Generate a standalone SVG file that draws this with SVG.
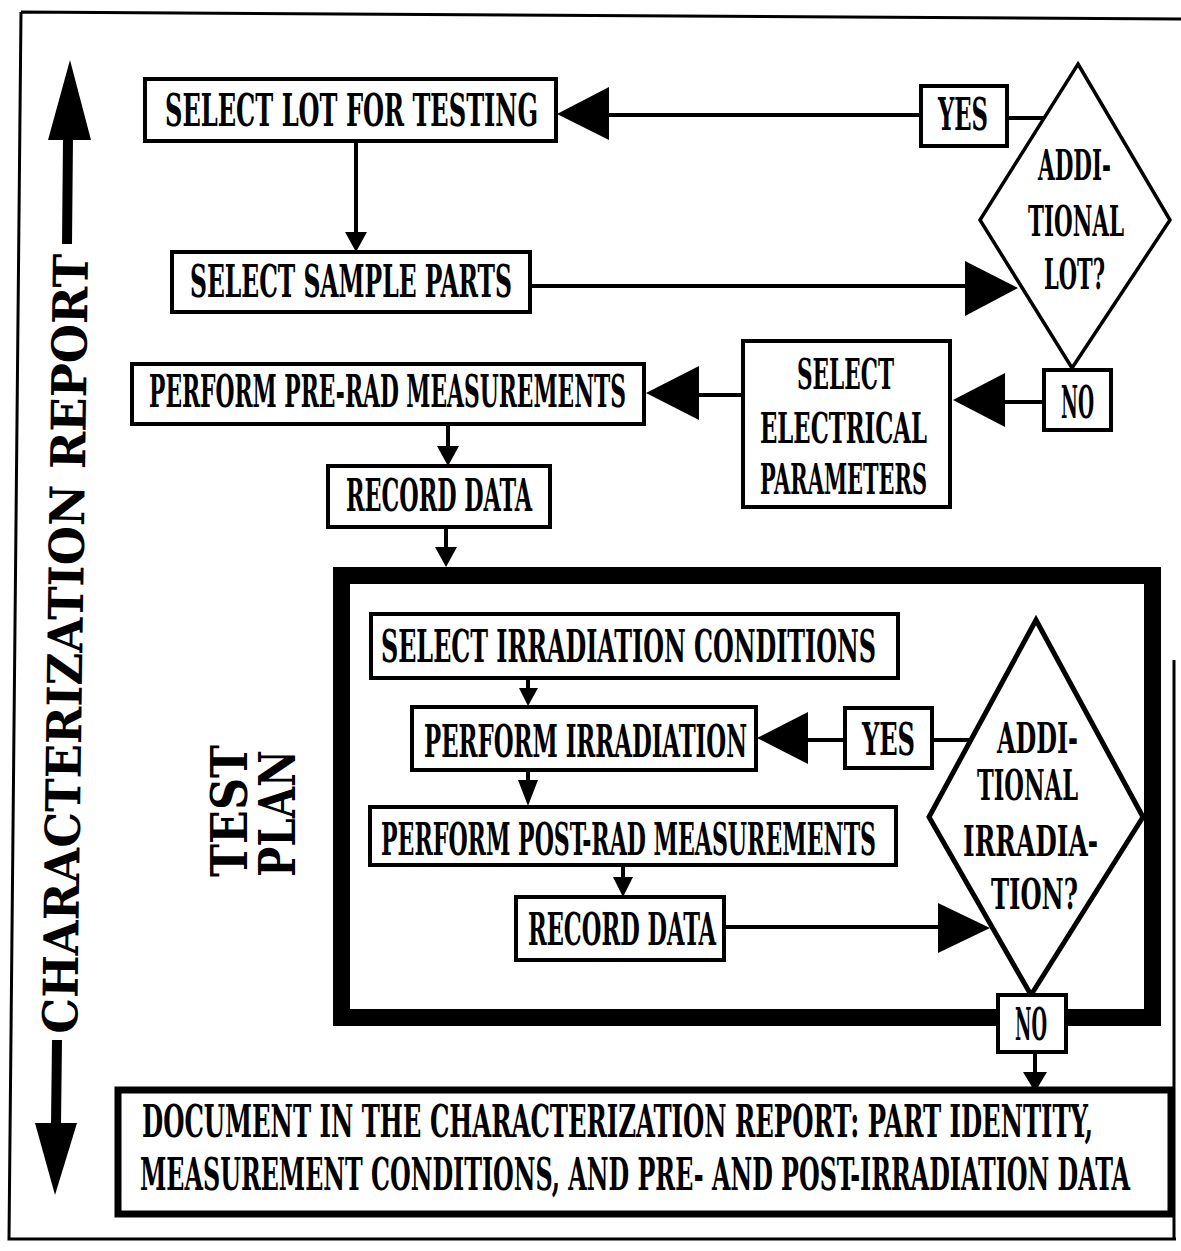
<svg xmlns="http://www.w3.org/2000/svg" width="1181" height="1251" viewBox="0 0 1181 1251">
<style>
.bg{fill:#fff}
.box{fill:#fff;stroke:#000;stroke-width:4}
.dia{fill:#fff;stroke:#000;stroke-width:3.5}
.dia2{fill:#fff;stroke:#000;stroke-width:5}
.frame{fill:none;stroke:#000;stroke-width:17}
.doc{fill:#fff;stroke:#000;stroke-width:7}
.ln{stroke:#000;stroke-width:4;fill:none}
.sh{stroke:#000;stroke-width:10;fill:none}
.bd{stroke:#000;stroke-width:3;fill:none}
.ah{fill:#000}
.t{font-family:"DejaVu Serif Condensed","DejaVu Serif","Liberation Serif",serif;font-weight:bold;font-size:45px;fill:#000}
.m{font-size:42px}
.big{font-family:"DejaVu Serif","Liberation Serif",serif;font-weight:bold;font-size:48px;fill:#000}
</style>
<rect class="bg" x="0" y="0" width="1181" height="1251"/>
<g id="border">
<path class="bd" d="M21,12 L1181,19 M21,12 L9,1239 L1176,1239 M1174,660 L1174,1239"/>
</g>
<g id="side-label">
<path class="sh" d="M68,138 L67,244 M57,1040 L56,1125"/>
<polygon class="ah" points="70,60 48,140 91,140"/>
<polygon class="ah" points="35,1123 77,1123 55,1195"/>
<text class="big" transform="translate(77,1034) rotate(-89.2)" textLength="780" lengthAdjust="spacingAndGlyphs">CHARACTERIZATION REPORT</text>
</g>
<g id="test-plan-frame">
<rect class="frame" x="341.5" y="575.5" width="811" height="442"/>
<text class="big" style="font-size:50px" transform="translate(247,877) rotate(-90)" textLength="132" lengthAdjust="spacingAndGlyphs">TEST</text>
<text class="big" style="font-size:50px" transform="translate(295,877) rotate(-90)" textLength="127" lengthAdjust="spacingAndGlyphs">PLAN</text>
</g>
<g id="connectors">
<path class="ln" d="M356,141 L356,236"/>
<polygon class="ah" points="345,232 367,232 356,252"/>
<path class="ln" d="M921,115 L605,115"/>
<polygon class="ah" points="609,87 609,140 557,114"/>
<path class="ln" d="M1007,118 L1046,118"/>
<path class="ln" d="M530,286 L968,286"/>
<polygon class="ah" points="965,261 965,316 1018,288"/>
<path class="ln" d="M1044,402 L1002,402"/>
<polygon class="ah" points="1005,373 1005,427 953,400"/>
<path class="ln" d="M743,395 L696,395"/>
<polygon class="ah" points="699,366 699,420 646,393"/>
<path class="ln" d="M448,424 L448,450"/>
<polygon class="ah" points="437,446 459,446 448,466"/>
<path class="ln" d="M446,527 L446,550"/>
<polygon class="ah" points="435,547 457,547 446,567"/>
<path class="ln" d="M528,678 L528,692"/>
<polygon class="ah" points="519,688 538,688 528,706"/>
<path class="ln" d="M528,770 L528,784"/>
<polygon class="ah" points="518,780 538,780 528,806"/>
<path class="ln" d="M845,740 L805,740"/>
<polygon class="ah" points="808,712 808,764 757,738"/>
<path class="ln" d="M932,740 L972,740"/>
<path class="ln" d="M623,865 L623,880"/>
<polygon class="ah" points="613,877 633,877 623,897"/>
<path class="ln" d="M724,927 L941,927"/>
<polygon class="ah" points="938,903 938,953 990,928"/>
<path class="ln" d="M1035,1052 L1035,1075"/>
<polygon class="ah" points="1023,1072 1047,1072 1035,1092"/>
</g>
<g id="select-lot">
<rect class="box" x="145" y="79" width="411" height="62"/>
<text class="t" x="165" y="126" textLength="373" lengthAdjust="spacingAndGlyphs">SELECT LOT FOR TESTING</text>
</g>
<g id="select-sample">
<rect class="box" x="172" y="252" width="358" height="60"/>
<text class="t" x="190" y="297" textLength="322" lengthAdjust="spacingAndGlyphs">SELECT SAMPLE PARTS</text>
</g>
<g id="pre-rad">
<rect class="box" x="132" y="364" width="512" height="60"/>
<text class="t" x="149" y="407" textLength="477" lengthAdjust="spacingAndGlyphs">PERFORM PRE-RAD MEASUREMENTS</text>
</g>
<g id="record-data-1">
<rect class="box" x="328" y="466" width="222" height="61"/>
<text class="t" x="346" y="511" textLength="186" lengthAdjust="spacingAndGlyphs">RECORD DATA</text>
</g>
<g id="select-electrical">
<rect class="box" x="743" y="341" width="207" height="166"/>
<text class="t m" x="797" y="389" textLength="97" lengthAdjust="spacingAndGlyphs">SELECT</text>
<text class="t m" x="760" y="443" textLength="167" lengthAdjust="spacingAndGlyphs">ELECTRICAL</text>
<text class="t m" x="760" y="494" textLength="167" lengthAdjust="spacingAndGlyphs">PARAMETERS</text>
</g>
<g id="yes-1">
<rect class="box" x="921" y="86" width="86" height="60"/>
<text class="t" x="938" y="130" textLength="50" lengthAdjust="spacingAndGlyphs">YES</text>
</g>
<g id="additional-lot">
<polygon class="dia" points="1078,64 1170,220 1072,368 980,220"/>
<text class="t m" x="1038" y="180" textLength="73" lengthAdjust="spacingAndGlyphs">ADDI-</text>
<text class="t m" x="1028" y="236" textLength="96" lengthAdjust="spacingAndGlyphs">TIONAL</text>
<text class="t m" x="1044" y="289" textLength="61" lengthAdjust="spacingAndGlyphs">LOT?</text>
</g>
<g id="no-1">
<rect class="box" x="1044" y="370" width="67" height="60"/>
<text class="t" x="1061" y="418" textLength="33" lengthAdjust="spacingAndGlyphs">NO</text>
</g>
<g id="select-irradiation">
<rect class="box" x="371" y="614" width="527" height="64"/>
<text class="t" x="381" y="662" textLength="495" lengthAdjust="spacingAndGlyphs">SELECT IRRADIATION CONDITIONS</text>
</g>
<g id="perform-irradiation">
<rect class="box" x="412" y="707" width="344" height="63"/>
<text class="t" x="424" y="757" textLength="323" lengthAdjust="spacingAndGlyphs">PERFORM IRRADIATION</text>
</g>
<g id="yes-2">
<rect class="box" x="845" y="708" width="87" height="60"/>
<text class="t" x="862" y="755" textLength="53" lengthAdjust="spacingAndGlyphs">YES</text>
</g>
<g id="post-rad">
<rect class="box" x="370" y="807" width="526" height="58"/>
<text class="t" x="381" y="855" textLength="495" lengthAdjust="spacingAndGlyphs">PERFORM POST-RAD MEASUREMENTS</text>
</g>
<g id="record-data-2">
<rect class="box" x="516" y="897" width="208" height="63"/>
<text class="t" x="528" y="945" textLength="188" lengthAdjust="spacingAndGlyphs">RECORD DATA</text>
</g>
<g id="additional-irradiation">
<polygon class="dia2" points="1036,620 1143,817 1031,995 929,817"/>
<text class="t m" x="997" y="753" textLength="81" lengthAdjust="spacingAndGlyphs">ADDI-</text>
<text class="t m" x="977" y="800" textLength="101" lengthAdjust="spacingAndGlyphs">TIONAL</text>
<text class="t m" x="963" y="856" textLength="135" lengthAdjust="spacingAndGlyphs">IRRADIA-</text>
<text class="t m" x="991" y="909" textLength="87" lengthAdjust="spacingAndGlyphs">TION?</text>
</g>
<g id="no-2">
<rect class="box" x="998" y="995" width="68" height="57"/>
<text class="t" x="1015" y="1040" textLength="32" lengthAdjust="spacingAndGlyphs">NO</text>
</g>
<g id="document">
<rect class="doc" x="118" y="1090" width="1053" height="124"/>
<text class="t" x="142" y="1137" textLength="951" lengthAdjust="spacingAndGlyphs">DOCUMENT IN THE CHARACTERIZATION REPORT:  PART IDENTITY,</text>
<text class="t" x="140" y="1190" textLength="990" lengthAdjust="spacingAndGlyphs">MEASUREMENT CONDITIONS, AND PRE- AND POST-IRRADIATION DATA</text>
</g>
</svg>
